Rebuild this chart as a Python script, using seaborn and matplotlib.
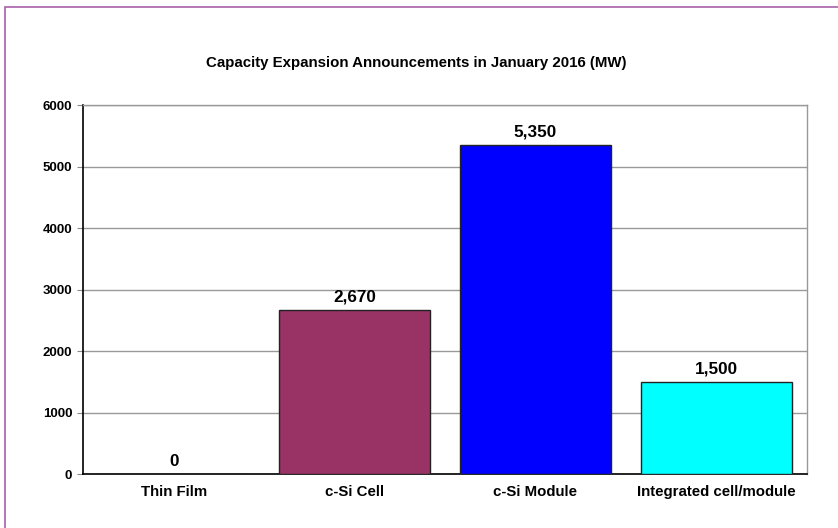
import numpy as np
import pandas as pd
import seaborn as sns
from matplotlib import pyplot as plt
from matplotlib.patches import Rectangle

categories = ['Thin Film', 'c-Si Cell', 'c-Si Module', 'Integrated cell/module']
capacity_mw = [0, 2670, 5350, 1500]
bar_colors = ['#9999FF', '#993366', '#0000FF', '#00FFFF']
y_ticks = [0, 1000, 2000, 3000, 4000, 5000, 6000]

sns.set_style('white')
plt.rcParams['font.family'] = ['Liberation Sans', 'DejaVu Sans']
plt.rcParams['text.color'] = 'black'
plt.rcParams['xtick.labelcolor'] = 'black'
plt.rcParams['ytick.labelcolor'] = 'black'

df = pd.DataFrame({'category': categories, 'mw': capacity_mw})

fig = plt.figure(figsize=(8.38, 5.28), dpi=100)
ax = fig.add_axes([83.3 / 838, 1 - 474.3 / 528, 723.4 / 838, 369 / 528])

sns.barplot(data=df, x='category', y='mw', hue='category', palette=bar_colors,
            legend=False, width=0.835, edgecolor='#222222', linewidth=1.0,
            saturation=1, ax=ax, zorder=3)

ax.set_xlim(-0.5, len(categories) - 0.5)
ax.set_ylim(0, 6000)
ax.set_yticks(y_ticks)
ax.set_yticklabels([str(t) for t in y_ticks], fontsize=9.5, fontweight='bold', color='black')
ax.set_xticks(range(len(categories)))
ax.set_xticklabels(categories, fontsize=10.8, fontweight='bold', color='black')
ax.set_xticks(np.arange(-0.5, len(categories)), minor=True)
ax.tick_params(axis='x', which='major', length=0, pad=8)
ax.tick_params(axis='x', which='minor', length=4, color='#888888', direction='out')
ax.tick_params(axis='y', length=4, color='#888888', direction='out', left=True, pad=4)
ax.set_xlabel('')
ax.set_ylabel('')

ax.yaxis.grid(True, color='#999999', linewidth=1.0, zorder=0)
ax.set_axisbelow(True)
for side in ['top', 'right']:
    ax.spines[side].set_color('#999999')
    ax.spines[side].set_linewidth(1.0)
for side in ['left', 'bottom']:
    ax.spines[side].set_color('black')
    ax.spines[side].set_linewidth(1.2)

for i, v in enumerate(capacity_mw):
    ax.annotate(f'{v:,}', (i, v), xytext=(0, 4), textcoords='offset points',
                ha='center', va='bottom', fontsize=12.3, fontweight='bold', color='black')

fig.text(416 / 838, 1 - 63 / 528, 'Capacity Expansion Announcements in January 2016 (MW)',
         ha='center', va='center', fontsize=10.8, fontweight='bold', color='black')

# outer chart frame (only top and left edges are visible in the crop)
fig.patches.append(Rectangle((5 / 838, -0.05), 1.1, 1 - 7 / 528 + 0.05,
                             transform=fig.transFigure, fill=False,
                             edgecolor='#A860A8', linewidth=1.2))

fig.savefig('out.png', dpi=100)
